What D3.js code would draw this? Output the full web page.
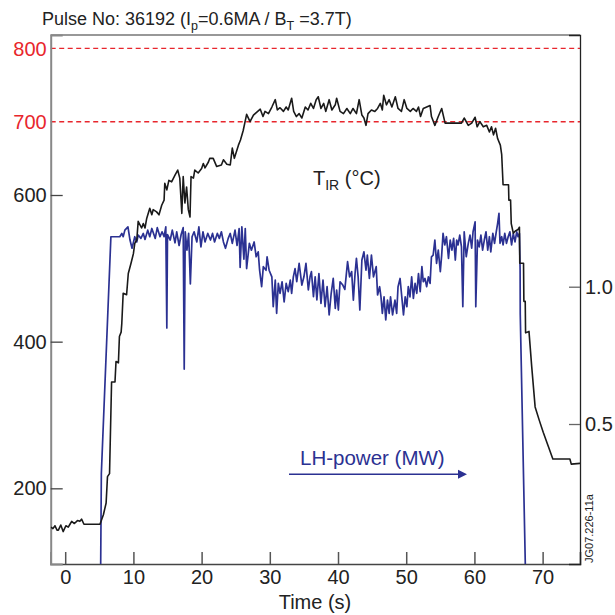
<!DOCTYPE html>
<html><head><meta charset="utf-8">
<script src="https://cdn.jsdelivr.net/npm/d3@7"></script>
<style>
html,body{margin:0;padding:0;background:#fff;}
svg text{font-family:"Liberation Sans",Arial,Helvetica,sans-serif;}
</style></head>
<body>
<svg id="chart" width="615" height="615"></svg>
<script>
// ---------------- data ----------------
const tirTime = [-2.1,-1.8,-1.5,-1.2,-1.0,-0.65,-0.3,0.1,0.45,0.7,0.95,1.35,1.8,2.15,2.4,2.75,5.1,5.6,6.0,6.2,6.5,6.8,7.3,7.45,7.8,7.95,8.2,8.3,8.5,9.0,9.25,9.65,10.0,10.2,10.5,10.7,11.2,11.45,11.7,11.95,12.4,12.7,12.9,13.4,13.75,14.15,14.5,14.6,14.9,15.2,15.6,16.1,16.5,16.8,17.1,17.3,17.55,17.8,18.05,18.3,18.45,18.8,19.0,19.5,20.0,20.25,20.5,21.0,21.2,21.7,22.2,22.9,23.2,23.7,24.2,24.5,24.8,25.4,25.7,26.1,26.6,27.1,27.6,28.1,28.6,29.0,29.3,29.8,30.3,30.8,31.1,31.5,32.0,32.4,32.7,33.2,33.5,33.9,34.3,34.7,35.2,35.6,36.0,36.4,36.8,37.1,37.5,37.9,38.2,38.7,39.1,39.6,39.8,40.3,40.8,41.3,41.8,42.2,42.7,43.1,43.5,43.8,44.1,44.4,44.9,45.4,45.8,46.2,46.5,46.7,47.1,47.5,47.9,48.4,48.8,49.3,49.7,50.1,50.6,51.0,51.5,51.8,52.1,52.5,53.0,53.5,53.7,54.2,54.7,55.2,55.7,58.1,58.5,59.1,59.6,60.1,60.4,60.8,61.3,61.8,62.2,62.5,62.8,63.1,63.4,63.8,64.0,64.2,64.7,65.0,65.05,65.3,65.4,65.7,66.0,66.4,66.6,66.65,67.2,67.25,67.45,67.5,68.0,68.4,68.9,69.5,70.1,70.8,71.5,74.0,74.2,75.5];
const tirValue = [147,145,149,143,143,150,141,149,147,151,155,152,156,155,158,151,151,164,180,216,220,345,345,373,371,407,413,425,466,464,493,507,520,534,539,564,555,561,555,568,582,573,580,577,573,586,593,616,607,620,618,627,634,623,575,625,589,611,580,570,625,623,634,630,636,643,637,645,650,650,639,641,648,642,641,664,650,668,675,688,710,700,709,713,717,707,714,711,720,730,716,719,714,720,716,732,714,707,711,705,720,716,725,718,730,734,718,725,714,730,716,723,732,714,711,718,711,718,711,730,709,705,695,711,716,714,718,725,716,736,723,730,720,734,718,714,730,718,714,718,714,720,707,718,720,722,707,695,707,718,698,698,705,695,698,706,693,700,693,695,686,693,682,691,677,668,655,614,614,614,593,593,561,548,551,553,556,507,507,455,455,412,414,366,311,293,276,258,240,240,233,234];

const lhTime = [5.2,5.3,6.7,8.0,8.3,8.5,8.75,9.2,9.5,9.8,10.2,10.5,10.7,11.1,11.45,11.7,12.1,12.4,12.7,13.2,13.5,13.9,14.2,14.5,14.75,14.9,15.0,15.4,15.7,16.1,16.35,16.7,17.0,17.3,17.45,17.6,17.85,18.1,18.35,18.6,18.9,19.3,19.6,19.9,20.2,20.5,20.9,21.3,21.6,21.9,22.3,22.6,22.9,23.2,23.5,23.9,24.2,24.5,24.9,25.2,25.5,25.65,25.9,26.2,26.4,26.6,27.0,27.3,27.7,28.0,28.3,28.5,28.8,29.05,29.45,29.6,29.9,30.3,30.5,30.8,31.0,31.25,31.5,31.8,32.1,32.4,32.7,33.0,33.2,33.45,33.7,33.95,34.3,34.7,35.0,35.3,35.65,35.9,36.1,36.4,36.65,36.9,37.2,37.5,37.8,38.1,38.4,38.7,39.0,39.3,39.6,39.8,40.05,40.3,40.7,41.0,41.4,41.7,42.0,42.25,42.5,42.7,42.95,43.2,43.5,43.8,44.1,44.3,44.6,44.9,45.2,45.6,45.8,46.1,46.3,46.5,46.75,47.0,47.25,47.5,47.7,48.0,48.35,48.6,48.8,49.1,49.35,49.6,49.85,50.1,50.3,50.55,50.8,51.05,51.3,51.55,51.8,52.05,52.3,52.5,52.75,53.0,53.25,53.5,53.7,53.95,54.2,54.45,54.7,55.0,55.2,55.4,55.65,55.9,56.2,56.45,56.7,56.95,57.2,57.4,57.6,57.85,58.1,58.3,58.5,58.8,59.1,59.35,59.6,59.8,60.1,60.2,60.45,60.7,60.95,61.2,61.45,61.7,61.95,62.2,62.4,62.7,62.95,63.2,63.4,63.6,63.75,64.0,64.2,64.45,64.7,64.95,65.2,65.45,65.7,65.95,66.2,66.4,66.6,66.7,66.72,67.46];
const lhValue = [-0.02,0.32,1.182,1.182,1.194,1.182,1.206,1.218,1.170,1.140,1.182,1.163,1.188,1.176,1.194,1.172,1.206,1.182,1.212,1.176,1.215,1.182,1.200,1.182,1.218,0.85,1.190,1.170,1.206,1.160,1.200,1.150,1.190,1.215,0.70,1.200,1.133,1.194,1.01,1.182,1.200,1.163,1.218,1.145,1.200,1.163,1.194,1.170,1.194,1.163,1.194,1.176,1.200,1.163,1.140,1.176,1.194,1.158,1.206,1.150,1.212,1.07,1.218,1.10,1.212,1.066,1.158,1.133,1.163,1.109,1.127,1.061,1.00,1.073,1.060,1.109,1.060,1.036,0.927,1.024,0.903,1.012,0.976,1.018,0.945,1.012,0.982,1.024,0.976,1.036,1.066,1.018,1.085,1.006,1.036,1.085,0.988,1.036,1.055,0.964,1.036,0.952,1.048,0.939,1.024,0.927,1.000,0.897,0.976,1.030,0.921,0.988,0.915,1.018,1.006,0.99,1.091,1.036,1.055,0.951,1.048,1.103,1.036,0.915,1.097,1.127,1.060,1.115,1.030,1.115,1.036,1.073,0.970,1.000,0.963,0.903,0.963,0.879,0.951,0.903,0.963,0.897,0.951,0.903,1.000,1.030,0.963,0.897,0.963,0.927,1.000,0.963,1.036,0.957,1.012,0.976,1.048,0.982,1.073,1.018,1.030,1.000,1.036,1.012,1.109,1.115,1.170,1.085,1.133,1.055,1.115,1.194,1.152,1.182,1.103,1.170,1.133,1.176,1.097,1.170,1.152,1.188,1.145,0.927,1.200,1.109,1.158,1.188,1.140,1.200,1.236,0.927,1.170,1.145,1.188,1.133,1.170,1.200,1.133,1.182,1.127,1.194,1.158,1.200,1.230,1.267,1.158,1.182,1.152,1.194,1.158,1.182,1.200,1.152,1.194,1.163,1.200,1.182,1.194,1.06,0.90,-0.01];

const xTicks = [0,10,20,30,40,50,60,70];
const yLeftTicks = [200,400,600];
const yLimitLines = [700,800];
const yRightTicks = [0.5,1.0];

// ---------------- layout ----------------
const L = 50.7, R = 580, T = 35, B = 564;
const svg = d3.select("#chart");
const x = d3.scaleLinear().domain([-2.126, 75.48]).range([L, R]);
const yL = d3.scaleLinear().domain([96.8, 818.2]).range([B, T]);
const yR = d3.scaleLinear().domain([-0.0098, 1.9166]).range([B, T]);

svg.append("clipPath").attr("id","clip").append("rect")
  .attr("x",L).attr("y",T).attr("width",R-L).attr("height",B-T);

const red = "#e8262d", blue = "#2b3192", ink = "#222";

// red limit lines
svg.append("g").selectAll("line").data(yLimitLines).join("line")
  .attr("x1",L).attr("x2",R).attr("y1",d=>yL(d)).attr("y2",d=>yL(d))
  .attr("stroke",red).attr("stroke-width",1.4).attr("stroke-dasharray","5,3.5");
svg.append("g").selectAll("text").data(yLimitLines).join("text")
  .attr("x",L-4).attr("y",d=>yL(d)).attr("dy","0.36em").attr("text-anchor","end")
  .attr("font-size",20).attr("fill",red).text(d=>d);

// frame top
svg.append("line").attr("x1",L).attr("x2",R).attr("y1",T).attr("y2",T).attr("stroke","#333").attr("stroke-width",1.2);

// axes
const gx = svg.append("g").attr("transform",`translate(0,${B})`)
  .call(d3.axisBottom(x).tickValues(xTicks).tickSize(-12).tickPadding(20).tickFormat(d3.format("d")));
gx.select(".domain").attr("stroke","#444").attr("stroke-width",1.6);
gx.selectAll(".tick line").attr("stroke","#555").attr("stroke-width",1.5);
gx.selectAll(".tick text").attr("font-size",20).attr("fill",ink).attr("font-family",null).attr("dy","0");

const gyl = svg.append("g").attr("transform",`translate(${L},0)`)
  .call(d3.axisLeft(yL).tickValues(yLeftTicks).tickSize(-12).tickPadding(4));
gyl.select(".domain").attr("stroke","#888").attr("stroke-width",2);
gyl.selectAll(".tick line").attr("stroke","#444").attr("stroke-width",1.3);
gyl.selectAll(".tick text").attr("font-size",20).attr("fill",ink).attr("font-family",null);

const gyr = svg.append("g").attr("transform",`translate(${R},0)`)
  .call(d3.axisRight(yR).tickValues(yRightTicks).tickSize(-11).tickPadding(5).tickFormat(d3.format(".1f")));
gyr.select(".domain").attr("stroke","#222").attr("stroke-width",1.3);
gyr.selectAll(".tick line").attr("stroke","#666").attr("stroke-width",1.3);
gyr.selectAll(".tick text").attr("font-size",20).attr("fill",ink).attr("font-family",null);

// series
const tirData = tirTime.map((t,i)=>[t,tirValue[i]]);
const lhData = lhTime.map((t,i)=>[t,lhValue[i]]);
const g = svg.append("g").attr("clip-path","url(#clip)");
g.append("path").datum(lhData)
  .attr("d", d3.line().x(d=>x(d[0])).y(d=>yR(d[1])))
  .attr("fill","none").attr("stroke",blue).attr("stroke-width",1.7).attr("stroke-linejoin","round");
g.append("path").datum(tirData)
  .attr("d", d3.line().x(d=>x(d[0])).y(d=>yL(d[1])))
  .attr("fill","none").attr("stroke","#1a1a1a").attr("stroke-width",1.6).attr("stroke-linejoin","round");

// title
const title = svg.append("text").attr("x",42).attr("y",25).attr("font-size",18).attr("fill",ink);
title.append("tspan").text("Pulse No: 36192 (I");
title.append("tspan").attr("font-size",12.5).attr("dy",4.5).text("p");
title.append("tspan").attr("dy",-4.5).text("=0.6MA / B");
title.append("tspan").attr("font-size",12.5).attr("dy",4.5).text("T");
title.append("tspan").attr("dy",-4.5).text(" =3.7T)");

// T_IR label
const tl = svg.append("text").attr("x",313).attr("y",185).attr("font-size",20).attr("fill",ink);
tl.append("tspan").text("T");
tl.append("tspan").attr("font-size",14).attr("dy",5).text("IR");
tl.append("tspan").attr("dy",-5).text(" (°C)");

// LH-power label + arrow
svg.append("text").attr("x",300).attr("y",465).attr("font-size",20.5).attr("fill",blue).text("LH-power (MW)");
svg.append("line").attr("x1",289).attr("x2",460).attr("y1",474.3).attr("y2",474.3).attr("stroke",blue).attr("stroke-width",1.5);
svg.append("path").attr("d","M467,474.3 L458,469.8 L458,478.8 Z").attr("fill",blue);

// x axis title
svg.append("text").attr("x",315).attr("y",609).attr("text-anchor","middle").attr("font-size",20).attr("fill",ink).text("Time (s)");

// figure id
svg.append("text").attr("transform","translate(593,563) rotate(-90)").attr("font-size",11).attr("fill",ink).text("JG07.226-11a");
</script>
</body></html>
